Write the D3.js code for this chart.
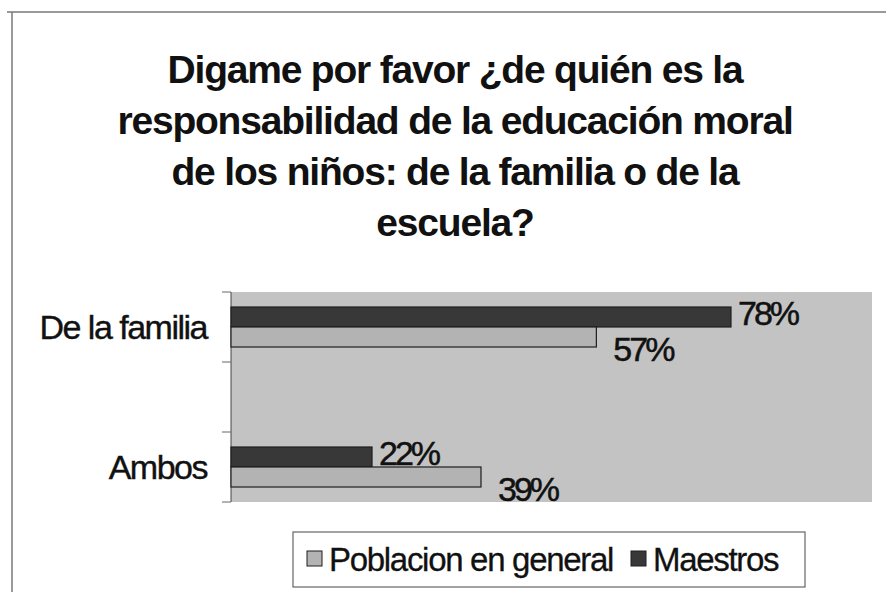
<!DOCTYPE html>
<html>
<head>
<meta charset="utf-8">
<script src="https://cdn.jsdelivr.net/npm/d3@7"></script>
<style>
  body { margin: 0; background: #fff; }
  text { font-family: "Liberation Sans", Arial, sans-serif; fill: #111; }
</style>
</head>
<body>
<div id="chart"></div>
<script>
// data (middle category is an empty slot in the original)
const categories = ["De la familia", "", "Ambos"];
const maestros = [0.78, null, 0.22];
const poblacion = [0.57, null, 0.39];
const seriesNames = ["Poblacion en general", "Maestros"];
const titleLines = [
  "Digame por favor ¿de quién es la",
  "responsabilidad de la educación moral",
  "de los niños: de la familia o de la",
  "escuela?"
];

const W = 886, H = 592;
const svg = d3.select("#chart").append("svg")
  .attr("width", W)
  .attr("height", H);

// chart frame (only top and left edges show on the scan)
svg.append("path")
  .attr("d", "M7,12H886M12,12V592")
  .attr("stroke", "#7a7a7a")
  .attr("stroke-width", 1.5)
  .attr("fill", "none");

// title
svg.append("g").selectAll("text")
  .data(titleLines)
  .enter().append("text")
  .attr("x", 455)
  .attr("y", (d, i) => 83 + i * 51)
  .attr("text-anchor", "middle")
  .style("font-size", "39px")
  .style("font-weight", "bold")
  .style("letter-spacing", "-1.2px")
  .text(d => d);

const plot = { left: 231, right: 872, top: 292, bottom: 502 };

const x = d3.scaleLinear().domain([0, 1]).range([plot.left, plot.right]);
const y = d3.scaleBand().domain(d3.range(categories.length)).range([plot.top, plot.bottom]);
const yInner = d3.scaleBand().domain(["Maestros", "Poblacion"])
  .range([0, y.bandwidth()])
  .paddingOuter(0.75);

// plot area
svg.append("rect")
  .attr("x", plot.left)
  .attr("y", plot.top)
  .attr("width", plot.right - plot.left)
  .attr("height", plot.bottom - plot.top)
  .attr("fill", "#c3c3c3");

// category axis with ticks at band edges
const yAxisG = svg.append("g");
yAxisG.append("line")
  .attr("x1", plot.left).attr("x2", plot.left)
  .attr("y1", plot.top).attr("y2", plot.bottom)
  .attr("stroke", "#444");
yAxisG.selectAll(".tick")
  .data(d3.range(categories.length + 1))
  .enter().append("line")
  .attr("x1", plot.left - 9).attr("x2", plot.left)
  .attr("y1", i => plot.top + i * y.step())
  .attr("y2", i => plot.top + i * y.step())
  .attr("stroke", "#666");
yAxisG.selectAll(".cat")
  .data(categories)
  .enter().append("text")
  .attr("x", plot.left - 24)
  .attr("y", (d, i) => y(i) + y.bandwidth() / 2)
  .attr("dy", "0.36em")
  .attr("text-anchor", "end")
  .style("font-size", "34px")
  .style("letter-spacing", "-1.5px")
  .style("stroke", "#111")
  .style("stroke-width", "0.4px")
  .text(d => d);

const series = [
  { key: "Maestros", values: maestros, fill: "#383838", dx: 7, dy: -4 },
  { key: "Poblacion", values: poblacion, fill: "#b3b3b3", dx: 17, dy: 12 }
];

series.forEach(s => {
  const rows = s.values.map((v, i) => ({ v, i })).filter(d => d.v != null);
  const g = svg.append("g");
  g.selectAll("rect")
    .data(rows)
    .enter().append("rect")
    .attr("x", x(0))
    .attr("y", d => y(d.i) + yInner(s.key))
    .attr("width", d => x(d.v) - x(0))
    .attr("height", yInner.bandwidth())
    .attr("fill", s.fill)
    .attr("stroke", "#1e1e1e")
    .attr("stroke-width", 1.2);
  g.selectAll("text")
    .data(rows)
    .enter().append("text")
    .attr("x", d => x(d.v) + s.dx)
    .attr("y", d => y(d.i) + yInner(s.key) + yInner.bandwidth() / 2 + s.dy)
    .attr("dy", "0.36em")
    .style("font-size", "34px")
    .style("letter-spacing", "-3px")
    .style("stroke", "#111")
    .style("stroke-width", "0.5px")
    .text(d => d3.format(".0%")(d.v));
});

// legend
const legend = svg.append("g").attr("transform", "translate(293,532)");
legend.append("rect")
  .attr("width", 512)
  .attr("height", 55)
  .attr("fill", "#fff")
  .attr("stroke", "#666")
  .attr("stroke-width", 1.2);
const legendFill = { "Poblacion en general": "#b3b3b3", "Maestros": "#383838" };
const legendX = [14, 338];
const item = legend.selectAll(".item")
  .data(seriesNames)
  .enter().append("g")
  .attr("transform", (d, i) => "translate(" + legendX[i] + ",0)");
item.append("rect")
  .attr("y", 19)
  .attr("width", 15)
  .attr("height", 15)
  .attr("fill", d => legendFill[d])
  .attr("stroke", "#1e1e1e");
item.append("text")
  .attr("x", 22)
  .attr("y", 27)
  .attr("dy", "0.36em")
  .style("font-size", "33px")
  .style("letter-spacing", "-1.3px")
  .style("stroke", "#111")
  .style("stroke-width", "0.3px")
  .text(d => d);
</script>
</body>
</html>
